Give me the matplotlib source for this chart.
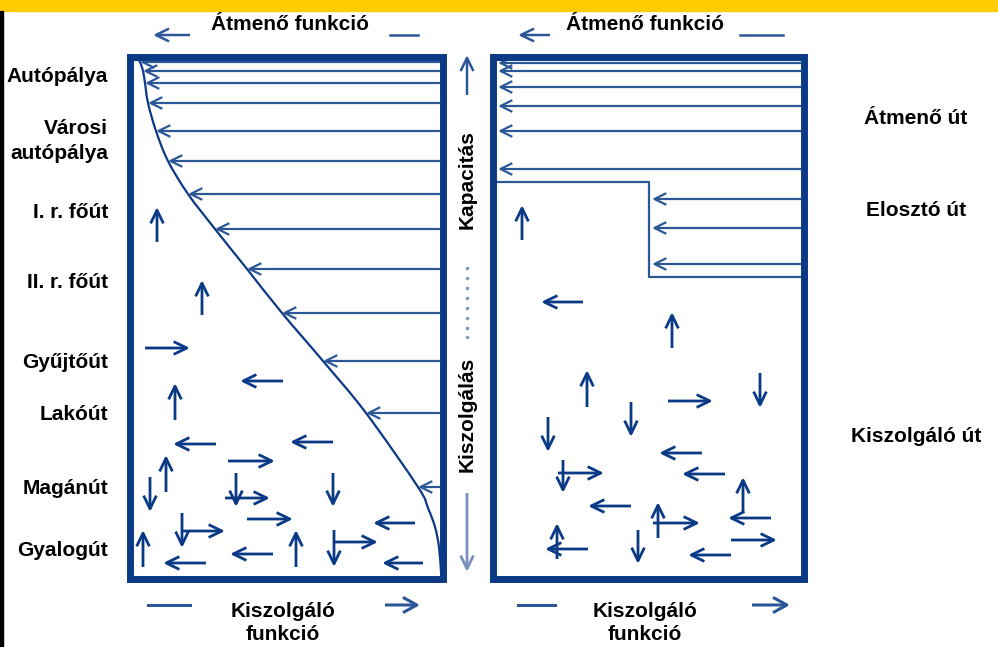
import matplotlib
matplotlib.use("Agg")
import matplotlib.pyplot as plt
from matplotlib.patches import Rectangle, FancyArrowPatch, PathPatch
from matplotlib.path import Path

# ---------------- data (diagram coordinates, pixel-like units) ----------------
row_labels = ["Autópálya", "Városi\nautópálya", "I. r. főút", "II. r. főút",
              "Gyűjtőút", "Lakóút", "Magánút", "Gyalogút"]
row_label_y = [77, 141, 212, 282, 362, 415, 488, 550]

road_labels = ["Átmenő út", "Elosztó út", "Kiszolgáló út"]
road_label_y = [118, 211, 436]

top_title = "Átmenő funkció"
bottom_title = "Kiszolgáló\nfunkció"
mid_up_label = "Kapacitás"
mid_down_label = "Kiszolgálás"

# Left panel: transit lines (y) and where their heads meet the curve (x)
left_transit_y = [62, 71, 83, 103, 131, 161, 194, 229, 269, 313, 361, 413, 487]
left_transit_head_x = [140, 143, 145, 148, 156, 168, 188, 215, 247, 282, 323, 366, 418]

# Left panel: boundary curve points
curve_x = [137, 140, 143, 145, 148, 156, 168, 188, 215, 247, 282, 323, 366, 418, 428, 435, 439, 441]
curve_y = [57, 62, 71, 83, 103, 131, 161, 194, 229, 269, 313, 361, 413, 487, 508, 527, 547, 572]

# Left panel: local arrows (x0, y0, x1, y1) tail -> head
left_local_arrows = [
    (157, 242, 157, 207), (202, 315, 202, 280), (145, 348, 190, 348),
    (283, 381, 240, 381), (175, 420, 175, 383), (216, 444, 173, 444),
    (333, 442, 290, 442), (228, 461, 275, 461), (166, 492, 166, 455),
    (150, 477, 150, 512), (236, 473, 236, 507), (225, 498, 270, 498),
    (333, 473, 333, 507), (247, 519, 293, 519), (415, 523, 373, 523),
    (182, 513, 182, 548), (182, 531, 225, 531), (143, 567, 143, 530),
    (296, 567, 296, 530), (334, 530, 334, 567), (334, 542, 378, 542),
    (273, 554, 230, 554), (206, 563, 163, 563), (423, 563, 382, 563),
]

# Right panel: transit lines to the left edge
right_transit_y = [63, 71, 87, 106, 131, 169]
# Right panel: distributor step boundary and arrows into it
step_x = [497, 649, 649, 801]
step_y = [182, 182, 277, 277]
right_dist_y = [199, 228, 264]

right_local_arrows = [
    (522, 240, 522, 205), (583, 302, 541, 302), (672, 348, 672, 312),
    (587, 407, 587, 370), (760, 373, 760, 408), (668, 401, 713, 401),
    (631, 402, 631, 437), (548, 417, 548, 452), (702, 453, 659, 453),
    (558, 473, 604, 473), (563, 460, 563, 493), (725, 474, 682, 474),
    (743, 513, 743, 477), (771, 518, 728, 518), (631, 506, 588, 506),
    (658, 538, 658, 502), (653, 523, 700, 523), (557, 559, 557, 523),
    (588, 549, 545, 549), (638, 530, 638, 564), (731, 540, 777, 540),
    (731, 555, 688, 555),
]

# dotted separator positions on the middle axis
mid_dots_y = [268, 278, 288, 298, 308, 318, 328, 337]

# ---------------- styling ----------------
NAVY = "#0a3a85"
LINE = "#2c5797"
FONT = "Liberation Sans"
FS = 15

fig = plt.figure(figsize=(9.98, 6.47), dpi=100)
ax = fig.add_axes([0, 0, 1, 1])
ax.set_xlim(0, 998)
ax.set_ylim(647, 0)
ax.axis("off")

# yellow top band & left black edge
ax.add_patch(Rectangle((0, 0), 998, 11, color="#ffcc00", zorder=1))
ax.add_patch(Rectangle((0, 11), 3, 636, color="black", zorder=1))


def arrow(x0, y0, x1, y1, lw=2.0, color=NAVY, hl=9.5, hw=4.6):
    ax.add_patch(FancyArrowPatch((x0, y0), (x1, y1),
                                 arrowstyle=f"->,head_length={hl},head_width={hw}",
                                 mutation_scale=1, lw=lw, color=color,
                                 shrinkA=0, shrinkB=0, zorder=3, capstyle="butt"))


def smooth_path(xs, ys):
    """Catmull-Rom style smooth curve through the given points (Bezier segments)."""
    pts = list(zip(xs, ys))
    verts = [pts[0]]
    codes = [Path.MOVETO]
    n = len(pts)
    for i in range(n - 1):
        p0 = pts[i - 1] if i > 0 else pts[i]
        p1 = pts[i]
        p2 = pts[i + 1]
        p3 = pts[i + 2] if i + 2 < n else pts[i + 1]
        c1 = (p1[0] + (p2[0] - p0[0]) / 6, p1[1] + (p2[1] - p0[1]) / 6)
        c2 = (p2[0] - (p3[0] - p1[0]) / 6, p2[1] - (p3[1] - p1[1]) / 6)
        verts += [c1, c2, p2]
        codes += [Path.CURVE4] * 3
    return Path(verts, codes)


# frames
for (x0, x1) in [(130.5, 443.5), (493.5, 804.5)]:
    ax.add_patch(Rectangle((x0, 56.5), x1 - x0, 522, fill=False,
                           lw=5.0, edgecolor=NAVY, zorder=4))

# left transit lines
for y, hx in zip(left_transit_y, left_transit_head_x):
    arrow(440, y, hx, y, lw=1.6, color=LINE, hl=8.5, hw=4.2)
ax.add_patch(PathPatch(smooth_path(curve_x, curve_y), fill=False,
                       edgecolor=NAVY, lw=1.6, zorder=3))

for a in left_local_arrows:
    arrow(*a)

# right transit lines
for y in right_transit_y:
    arrow(801, y, 498, y, lw=1.6, color=LINE, hl=8.5, hw=4.2)
ax.plot(step_x, step_y, color=LINE, lw=1.6, zorder=3)
for y in right_dist_y:
    arrow(801, y, 652, y, lw=1.6, color=LINE, hl=8.5, hw=4.2)
for a in right_local_arrows:
    arrow(*a)

# top titles with arrows
for cx, (la0, la1), (d0, d1) in [(290, (190, 153), (390, 418)),
                                  (645, (550, 518), (740, 783))]:
    ax.text(cx, 25, top_title, ha="center", va="center", fontsize=FS,
            fontweight="bold", family=FONT)
    arrow(la0, 35, la1, 35, lw=1.8, color=LINE)
    ax.plot([d0, d1], [35, 35], color=LINE, lw=1.8)

# bottom titles
for cx, (d0, d1), (a0, a1) in [(283, (148, 190), (385, 420)),
                                (645, (518, 555), (752, 790))]:
    ax.text(cx, 623, bottom_title, ha="center", va="center", fontsize=FS,
            fontweight="bold", family=FONT, linespacing=1.25)
    ax.plot([d0, d1], [605, 605], color=LINE, lw=2.2)
    arrow(a0, 605, a1, 605, lw=2.2, color=LINE, hl=10, hw=5.5)

# left row labels
for lab, y in zip(row_labels, row_label_y):
    ax.text(108, y, lab, ha="right", va="center", fontsize=FS,
            fontweight="bold", family=FONT, linespacing=1.42)

# right road labels
for lab, y in zip(road_labels, road_label_y):
    ax.text(916, y, lab, ha="center", va="center", fontsize=FS,
            fontweight="bold", family=FONT)

# middle vertical axis
arrow(467, 95, 467, 55, lw=1.8, color=LINE)
ax.text(467, 180, mid_up_label, rotation=90, ha="center", va="center",
        fontsize=FS, fontweight="bold", family=FONT)
ax.plot([467] * len(mid_dots_y), mid_dots_y, ls="none", marker="o",
        ms=2.6, color="#8796b8", mec="none")
ax.text(467, 414, mid_down_label, rotation=90, ha="center", va="center",
        fontsize=FS, fontweight="bold", family=FONT)
arrow(467, 493, 467, 572, lw=2.0, color="#7890bb")

fig.savefig("out.png", dpi=100)
